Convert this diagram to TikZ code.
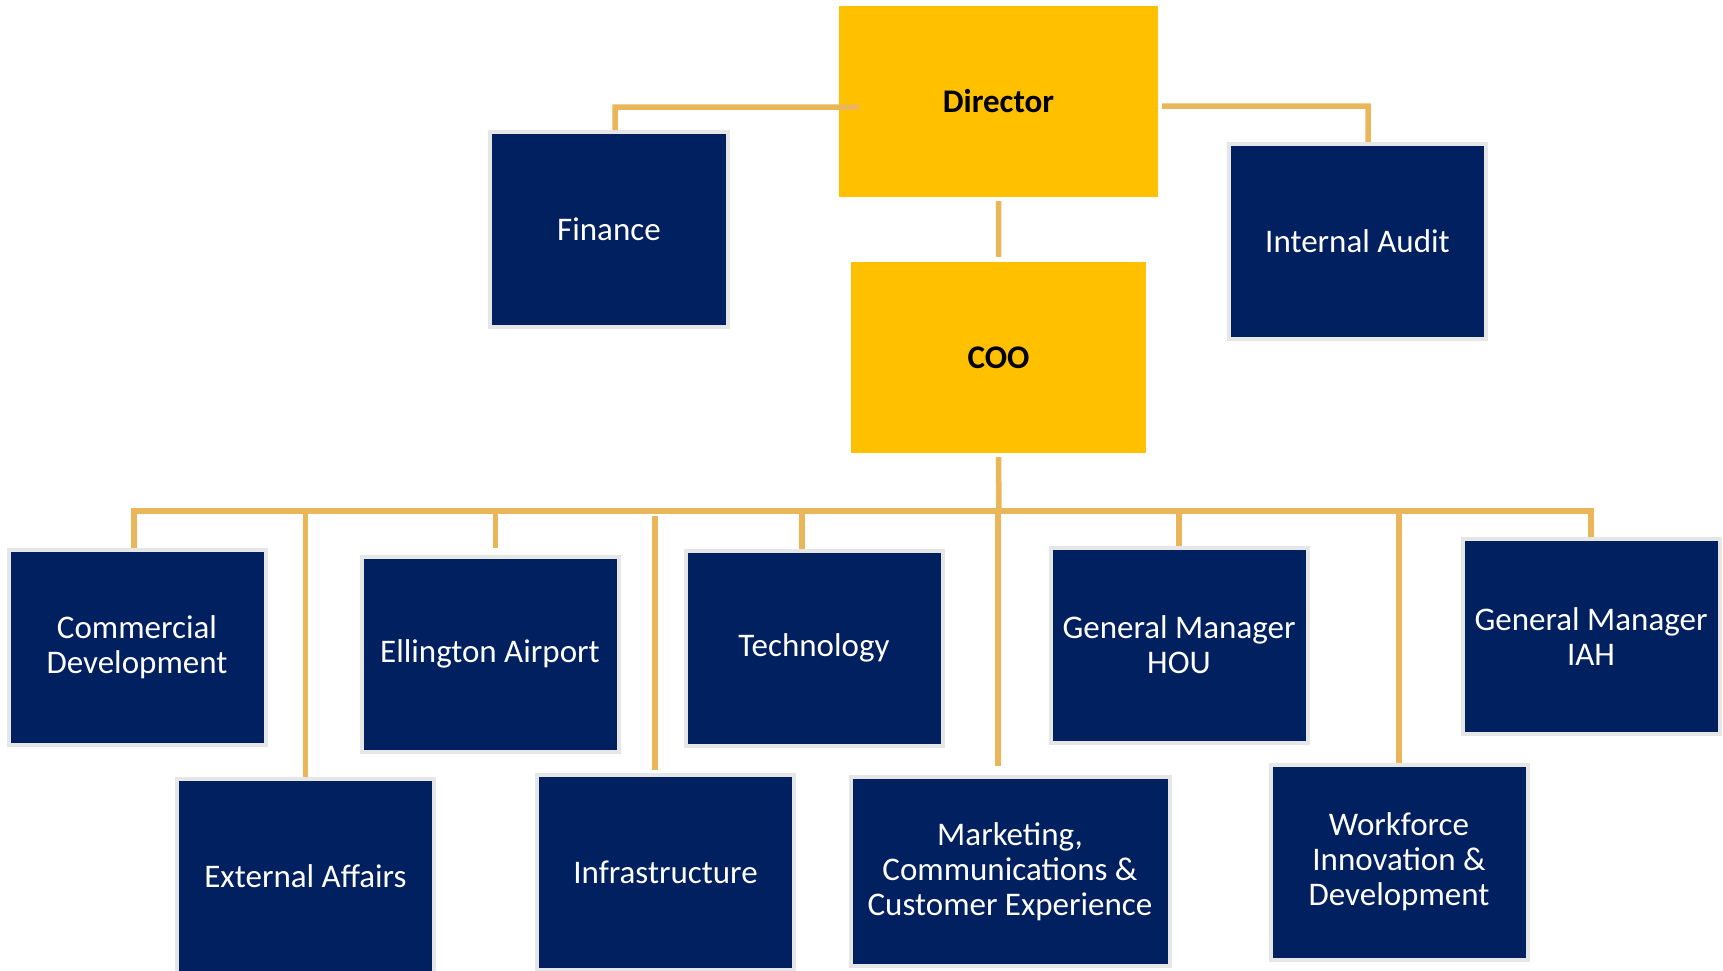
\documentclass[tikz,border=0pt]{standalone}
\usepackage{fontspec}
\setmainfont{Carlito}
\usepackage{xcolor}
\usetikzlibrary{positioning}

\definecolor{navy}{HTML}{002060}
\definecolor{gold}{HTML}{FFC000}
\definecolor{wire}{HTML}{EBB55A}
\definecolor{rim}{HTML}{E6E6E6}

\tikzset{
    unit/.style={rectangle, draw=rim, line width=4pt, fill=navy, text=white,
        align=center, inner sep=0pt, minimum width=257pt, minimum height=195pt,
        font=\fontsize{33}{35}\selectfont},
    head/.style={rectangle, fill=gold, text=black, align=center, inner sep=0pt,
        font=\fontsize{33}{35}\selectfont\bfseries},
    link/.style={draw=wire, line width=5.5pt}
}

\begin{document}
\begin{tikzpicture}[x=1pt, y=-1pt]
        \useasboundingbox (0, 0) rectangle (1723, 970);

        \node[head, minimum width=319pt, minimum height=191pt] (director) at (998.5, 101.5) {Director};
        \node[head, minimum width=295pt, minimum height=191pt] (coo) at (998.5, 357.5) {COO};
        \node[unit, minimum width=238pt] (finance) at (609, 229.5) {Finance};
        \node[unit] (audit) at (1357.5, 241.5) {Internal Audit};

        \node[unit] (comm) at (137, 647.5) {Commercial\\Development};
        \node[unit] (ext) at (305.5, 876.5) {External Affairs};
        \node[unit] (ell) at (490, 654) {Ellington Airport};
        \node[unit] (infra) at (665.5, 872.5) {Infrastructure};
        \node[unit] (tech) at (814, 648) {Technology};
        \node[unit, minimum width=319pt, minimum height=189pt] (mkt) at (1010, 871.5) {Marketing,\\Communications \&\\Customer Experience};
        \node[unit] (hou) at (1179, 645) {General Manager\\HOU};
        \node[unit] (wfd) at (1399, 862) {Workforce\\Innovation \&\\Development};
        \node[unit] (iah) at (1591, 636.5) {General Manager\\IAH};

        \coordinate (bus) at (999, 511);

        \draw[link] ([xshift=20pt, yshift=-5.5pt]director.west) -| ([xshift=6pt]finance.north)
            ([xshift=4pt, yshift=-4.5pt]director.east) -| ([xshift=10.5pt]audit.north)
            ([yshift=-4pt]director.south) to ([yshift=5pt]coo.north)
            ([yshift=-4pt]coo.south) to (bus);
        \draw[link] ([xshift=-3pt]comm.north) |- (bus) -| (iah.north)
            (ext.north |- bus) to (ext.north)
            ([xshift=5.5pt]ell.north |- bus) to ([xshift=5.5pt, yshift=7pt]ell.north)
            ([xshift=-10.5pt, yshift=-5pt]infra.north |- bus) to ([xshift=-10.5pt, yshift=3pt]infra.north)
            ([xshift=-12pt]tech.north |- bus) to ([xshift=-12pt]tech.north)
            ([xshift=-12pt]mkt.north |- bus) to ([xshift=-12pt, yshift=9pt]mkt.north)
            (hou.north |- bus) to (hou.north)
            (wfd.north |- bus) to (wfd.north);
    \end{tikzpicture}
\end{document}
